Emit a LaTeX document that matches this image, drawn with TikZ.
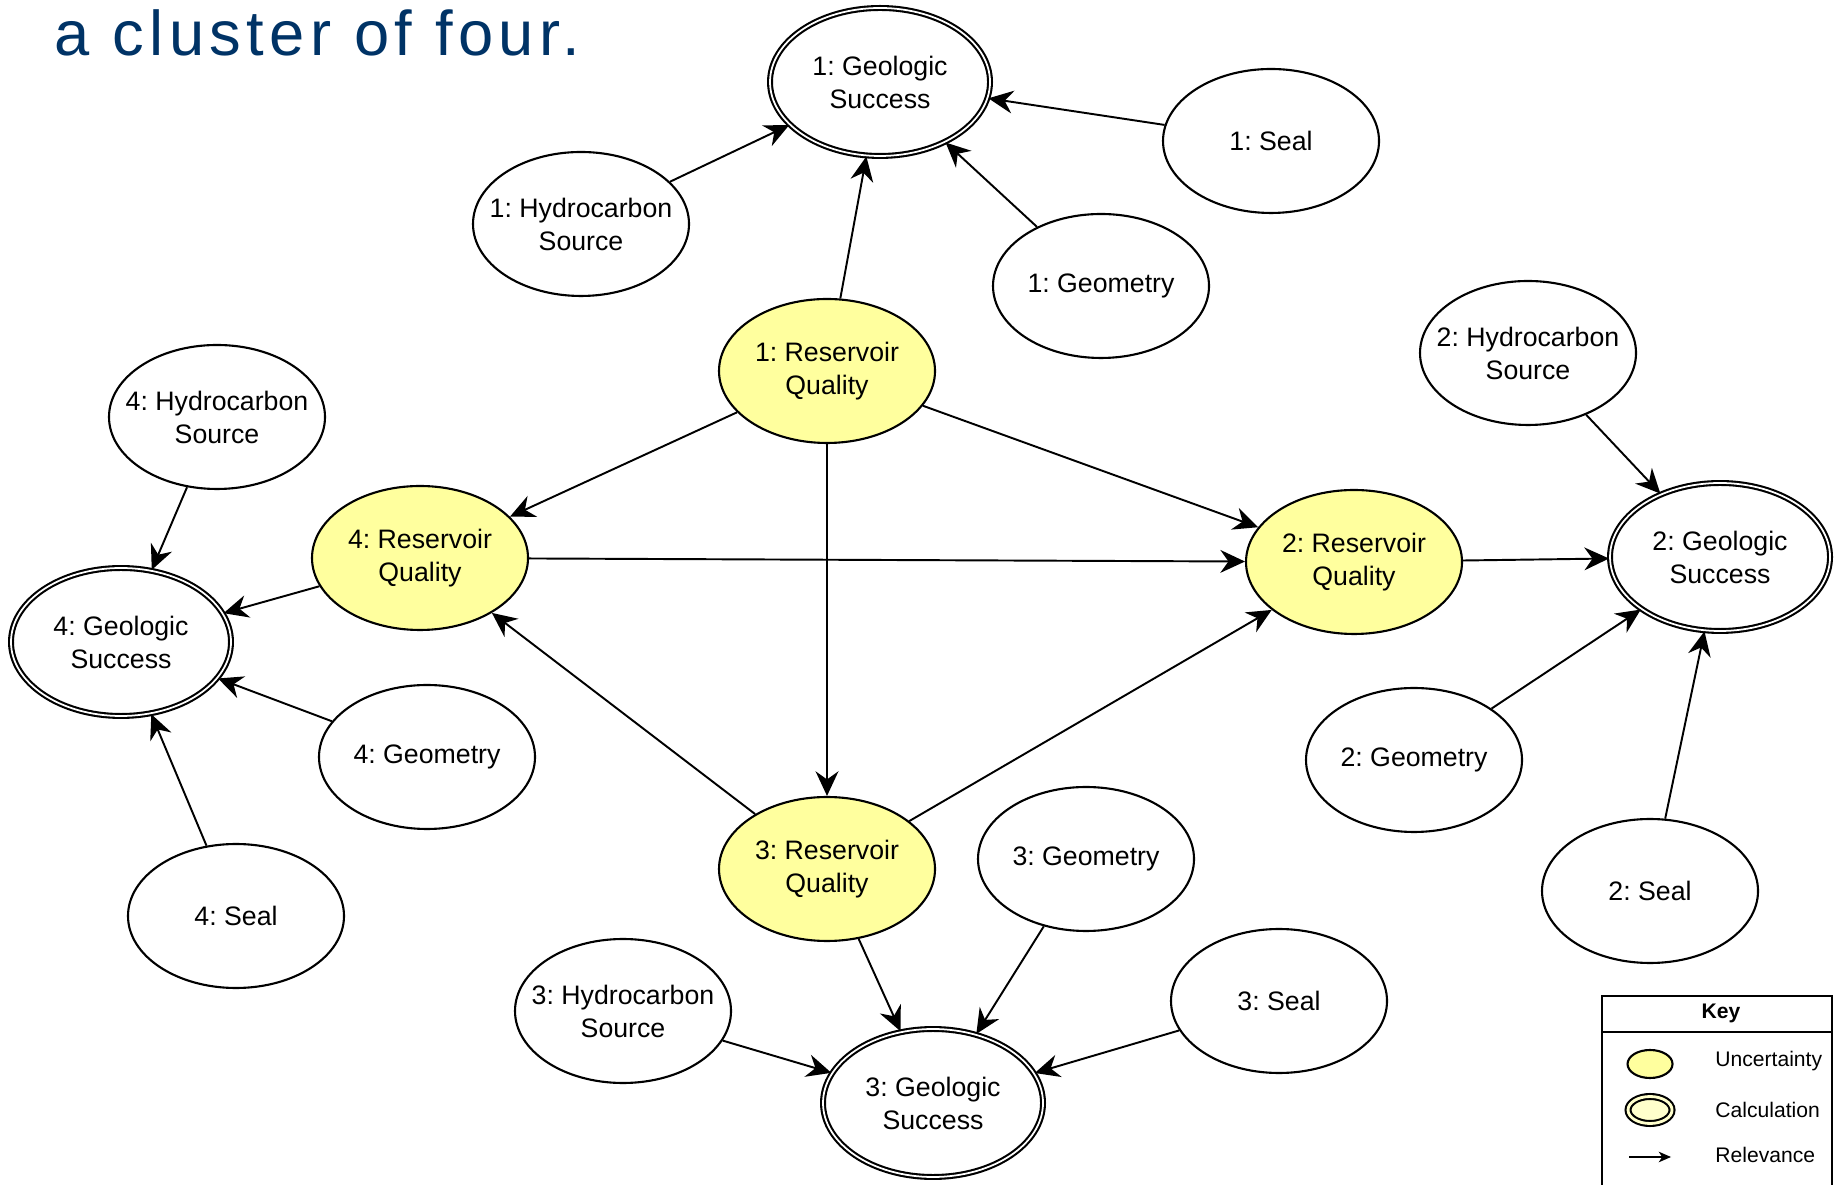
\documentclass[tikz,border=0pt]{standalone}
\usepackage{fontspec}
\setmainfont{Liberation Sans}
\newfontfamily\titlefont[LetterSpace=8.5]{Liberation Sans}
\usepackage{xcolor}
\usetikzlibrary{shapes,arrows.meta,positioning,calc}
\definecolor{uncyellow}{RGB}{255,255,158}
\definecolor{calcyellow}{RGB}{255,255,204}
\definecolor{titleblue}{RGB}{0,51,102}
\tikzset{
  factor/.style={ellipse, draw, line width=0.6pt, minimum width=2.16cm, minimum height=1.44cm,
    inner xsep=-0.15cm, inner ysep=0pt, align=center, font=\fontsize{7.6}{9.4}\selectfont},
  uncnode/.style={factor, fill=uncyellow},
  calcnode/.style={factor, double, double distance=0.5pt, minimum width=2.2cm, minimum height=1.48cm},
  relarrow/.style={-{Stealth[length=7pt,width=6.5pt,inset=2.3pt]}, line width=0.55pt},
  keytext/.style={font=\fontsize{6}{7}\selectfont, anchor=west}
}
\frenchspacing
\begin{document}
\begin{tikzpicture}
    \clip (0,0) rectangle (18.43,11.84);
    % Title (rest of it lies above the page)
    \node[anchor=base west, inner sep=0pt, text=titleblue, font=\titlefont\fontsize{18}{20}\selectfont] (title) at (0.54,11.28) {a cluster of four.};
    % Cluster 1
    \node[calcnode] (gs1) at (8.80,11.02) {1: Geologic\\Success};
    \node[factor] (seal1) at (12.71,10.43) {1: Seal};
    \node[factor] (hs1) at (5.81,9.60) {1: Hydrocarbon\\Source};
    \node[factor] (geo1) at (11.01,8.98) {1: Geometry};
    \node[uncnode] (rq1) at (8.27,8.13) {1: Reservoir\\Quality};
    % Cluster 2
    \node[factor] (hs2) at (15.28,8.31) {2: Hydrocarbon\\Source};
    \node[uncnode] (rq2) at (13.54,6.22) {2: Reservoir\\Quality};
    \node[calcnode] (gs2) at (17.20,6.27) {2: Geologic\\Success};
    \node[factor] (geo2) at (14.14,4.24) {2: Geometry};
    \node[factor] (seal2) at (16.50,2.93) {2: Seal};
    % Cluster 3
    \node[uncnode] (rq3) at (8.27,3.15) {3: Reservoir\\Quality};
    \node[factor] (geo3) at (10.86,3.25) {3: Geometry};
    \node[factor] (hs3) at (6.23,1.73) {3: Hydrocarbon\\Source};
    \node[factor] (seal3) at (12.79,1.83) {3: Seal};
    \node[calcnode] (gs3) at (9.33,0.81) {3: Geologic\\Success};
    % Cluster 4
    \node[factor] (hs4) at (2.17,7.67) {4: Hydrocarbon\\Source};
    \node[uncnode] (rq4) at (4.20,6.26) {4: Reservoir\\Quality};
    \node[calcnode] (gs4) at (1.21,5.42) {4: Geologic\\Success};
    \node[factor] (geo4) at (4.27,4.27) {4: Geometry};
    \node[factor] (seal4) at (2.36,2.68) {4: Seal};
    % Relevance arrows
    \draw[relarrow] (hs1) -- (gs1);
    \draw[relarrow] (seal1) -- (gs1);
    \draw[relarrow] (geo1) -- (gs1);
    \draw[relarrow] (rq1) -- (gs1);
    \draw[relarrow] (rq1) -- (rq4);
    \draw[relarrow] (rq1) -- (rq2);
    \draw[relarrow] (rq1) -- (rq3);
    \draw[relarrow] (rq4) -- (rq2);
    \draw[relarrow] (rq3) -- (rq4);
    \draw[relarrow] (rq3) -- (rq2);
    \draw[relarrow] (rq2) -- (gs2);
    \draw[relarrow] (hs2) -- (gs2);
    \draw[relarrow] (geo2) -- (gs2);
    \draw[relarrow] (seal2) -- (gs2);
    \draw[relarrow] (rq4) -- (gs4);
    \draw[relarrow] (hs4) -- (gs4);
    \draw[relarrow] (geo4) -- (gs4);
    \draw[relarrow] (seal4) -- (gs4);
    \draw[relarrow] (rq3) -- (gs3);
    \draw[relarrow] (geo3) -- (gs3);
    \draw[relarrow] (hs3) -- (gs3);
    \draw[relarrow] (seal3) -- (gs3);
    % Key
    \draw[line width=0.8pt] (16.02,-0.2) -- (16.02,1.88) -- (18.32,1.88) -- (18.32,-0.2);
    \draw[line width=0.8pt] (16.02,1.52) -- (18.32,1.52);
    \node[font=\fontsize{6}{7}\selectfont\bfseries] (keyhead) at (17.21,1.71) {Key};
    \node[ellipse, draw, line width=0.6pt, fill=uncyellow, minimum width=0.45cm, minimum height=0.28cm, inner sep=0pt] (keyunc) at (16.50,1.20) {};
    \node[ellipse, draw, line width=0.6pt, double=calcyellow, double distance=0.8pt, fill=calcyellow, minimum width=0.44cm, minimum height=0.27cm, inner sep=0pt] (keycalc) at (16.50,0.74) {};
    \coordinate (keya) at (16.29,0.27);
    \coordinate (keyb) at (16.71,0.27);
    \draw[-{Stealth[length=3.5pt,width=3pt,inset=1pt]}, line width=0.5pt] (keya) -- (keyb);
    \node[keytext] (ktunc) at (17.03,1.23) {Uncertainty};
    \node[keytext] (ktcalc) at (17.03,0.74) {Calculation};
    \node[keytext] (ktrel) at (17.03,0.29) {Relevance};
\end{tikzpicture}
\end{document}
